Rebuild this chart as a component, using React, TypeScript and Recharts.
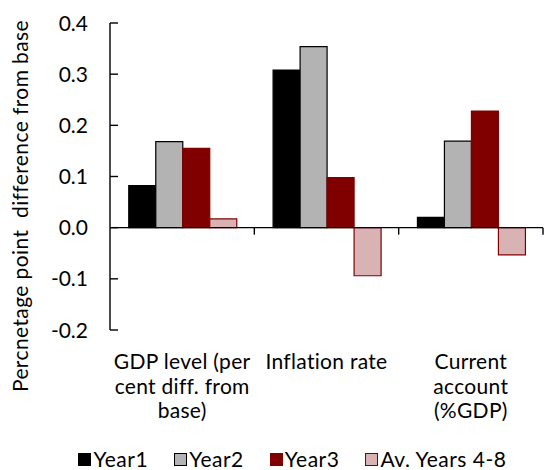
import React from "react"
import { BarChart, Bar, XAxis, YAxis, Legend, ReferenceLine, Label } from "recharts"

const categories = ["GDP level (per\ncent diff. from\nbase)", "Inflation rate", "Current\naccount\n(%GDP)"]
const year1 = [0.082, 0.308, 0.02]
const year2 = [0.168, 0.354, 0.169]
const year3 = [0.155, 0.098, 0.228]
const avYears = [0.017, -0.094, -0.053]
const yTicks = [-0.2, -0.1, 0, 0.1, 0.2, 0.3, 0.4]

const data = categories.map((c, i) => ({
  name: c,
  y1: year1[i],
  y2: year2[i],
  y3: year3[i],
  av: avYears[i],
}))

const series = [
  { key: "y1", name: "Year1", fill: "#000000", stroke: "#000000" },
  { key: "y2", name: "Year2", fill: "#b3b3b3", stroke: "#000000" },
  { key: "y3", name: "Year3", fill: "#800000", stroke: "#800000" },
  { key: "av", name: "Av. Years 4-8", fill: "#d9b3b3", stroke: "#800000" },
]

const FONT = "Lato, 'Open Sans', sans-serif"

function CatTick(props: any) {
  const { x, y, payload } = props
  const lines = String(payload.value).split("\n")
  return (
    <g>
      {lines.map((l, i) => (
        <text key={i} x={x} y={y + 31 + i * 24.5} textAnchor="middle" fontSize={21} fill="#000" fontFamily={FONT} letterSpacing={0.3}>
          {l}
        </text>
      ))}
    </g>
  )
}

// y tick: mark points into the plot, label sits to the left
function ValTick(props: any) {
  const { x, y, payload } = props
  return (
    <g>
      <line x1={x} x2={x + 8} y1={y} y2={y} stroke="#000" strokeWidth={1.4} />
      <text x={x - 22} y={y} dy="0.36em" textAnchor="end" fontSize={21} fill="#000" fontFamily={FONT}>
        {Number(payload.value).toFixed(1)}
      </text>
    </g>
  )
}

// zero line with tick marks at category boundaries
function ZeroAxis(props: any) {
  const { x1, x2, y1 } = props
  const n = categories.length
  const w = (x2 - x1) / n
  return (
    <g>
      <line x1={x1} x2={x2} y1={y1} y2={y1} stroke="#000" strokeWidth={1.4} />
      {categories.map((_, i) => (
        <line key={i} x1={x1 + w * (i + 1)} x2={x1 + w * (i + 1)} y1={y1} y2={y1 + 7} stroke="#000" strokeWidth={1.4} />
      ))}
    </g>
  )
}

function YLabel() {
  const cx = 28
  const cy = 206
  return (
    <text
      x={cx}
      y={cy}
      transform={`rotate(-90 ${cx} ${cy})`}
      textAnchor="middle"
      fontSize={21}
      fill="#000"
      fontFamily={FONT}
      letterSpacing={0.4}
      style={{ whiteSpace: "pre" }}
    >
      Percnetage point  difference from base
    </text>
  )
}

function LegendBox() {
  return (
    <div
      style={{
        display: "flex",
        justifyContent: "center",
        gap: 26,
        fontFamily: FONT,
        fontSize: 21,
        letterSpacing: 0.5,
        color: "#000",
        paddingLeft: 42,
        paddingTop: 7,
        lineHeight: "24px",
      }}
    >
      {series.map((s) => (
        <div key={s.key} style={{ display: "flex", alignItems: "center" }}>
          <span
            style={{
              display: "inline-block",
              width: 11,
              height: 11,
              background: s.fill,
              border: `1.5px solid ${s.stroke}`,
              marginRight: 2,
            }}
          />
          <span>{s.name}</span>
        </div>
      ))}
    </div>
  )
}

export default function App() {
  return (
    <div style={{ position: "absolute", left: 0, top: 0 }}>
      <BarChart
        width={544}
        height={470}
        data={data}
        margin={{ top: 23, right: 1, left: 0, bottom: 0 }}
        barGap={0}
        barCategoryGap="13%"
      >
        <XAxis dataKey="name" axisLine={false} tickLine={false} tick={<CatTick />} height={110} interval={0} />
        <YAxis
          domain={[-0.2, 0.4]}
          ticks={yTicks}
          width={110}
          axisLine={{ stroke: "#000", strokeWidth: 1.4 }}
          tickLine={false}
          tickSize={0}
          tickMargin={0}
          tick={<ValTick />}
        >
          <Label content={<YLabel />} />
        </YAxis>
        <Legend verticalAlign="bottom" content={<LegendBox />} wrapperStyle={{ bottom: 0, height: 30 }} />
        {series.map((s) => (
          <Bar key={s.key} dataKey={s.key} name={s.name} fill={s.fill} stroke={s.stroke} strokeWidth={1.2} isAnimationActive={false} />
        ))}
        <ReferenceLine y={0} shape={<ZeroAxis />} />
      </BarChart>
    </div>
  )
}
